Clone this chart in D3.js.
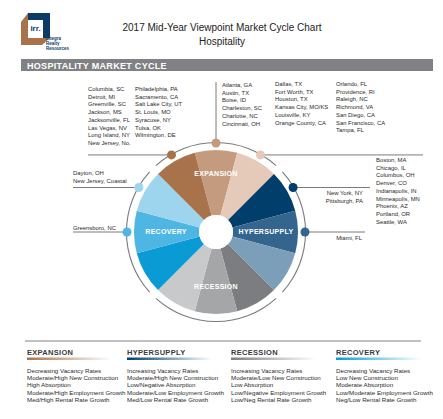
<!DOCTYPE html>
<html><head><meta charset="utf-8">
<script src="https://cdn.jsdelivr.net/npm/d3@7"></script>
<style>body{margin:0;background:#fff}text{font-family:"Liberation Sans Narrow","Liberation Sans",Arial,sans-serif}</style>
</head><body><svg id="c" width="443" height="419"></svg>
<script>
// 12 wheel segments clockwise starting at 12 o'clock
var segments = ["exp2","exp3","hyp1","hyp2","hyp3","rec1","rec2","rec3","rcv1","rcv2","rcv3","exp1"];
var segColors = ["#c49b7f","#e6cab9","#003e6c","#33658f","#7b9fb8","#7c7d81","#a5a6a8","#c8c9cb","#0a9bd5","#4db6e3","#9dd5ee","#a8734b"];
var phases = ["EXPANSION","HYPERSUPPLY","RECESSION","RECOVERY"];
var phaseGrad = [["#a8734b","#fff"],["#003e6c","#fff"],["#7c7d81","#fff"],["#0a9bd5","#fff"]];
var phaseText = [
 ["Decreasing Vacancy Rates","Moderate/High New Construction","High Absorption","Moderate/High Employment Growth","Med/High Rental Rate Growth"],
 ["Increasing Vacancy Rates","Moderate/High New Construction","Low/Negative Absorption","Moderate/Low Employment Growth","Med/Low Rental Rate Growth"],
 ["Increasing Vacancy Rates","Moderate/Low New Construction","Low Absorption","Low/Negative Employment Growth","Low/Neg Rental Rate Growth"],
 ["Decreasing Vacancy Rates","Low New Construction","Moderate Absorption","Low/Moderate Employment Growth","Neg/Low Rental Rate Growth"]];
// markets by segment index (clock position)
var markets = {
 11: [["Columbia, SC","Detroit, MI","Greenville, SC","Jackson, MS","Jacksonville, FL","Las Vegas, NV","Long Island, NY","New Jersey, No."],
      ["Philadelphia, PA","Sacramento, CA","Salt Lake City, UT","St. Louis, MO","Syracuse, NY","Tulsa, OK","Wilmington, DE"]],
 0: [["Atlanta, GA","Austin, TX","Boise, ID","Charleston, SC","Charlotte, NC","Cincinnati, OH"]],
 1: [["Dallas, TX","Fort Worth, TX","Houston, TX","Kansas City, MO/KS","Louisville, KY","Orange County, CA"],
     ["Orlando, FL","Providence, RI","Raleigh, NC","Richmond, VA","San Diego, CA","San Francisco, CA","Tampa, FL"]],
 2: [["New York, NY","Pittsburgh, PA"],["Boston, MA","Chicago, IL","Columbus, OH","Denver, CO","Indianapolis, IN","Minneapolis, MN","Phoenix, AZ","Portland, OR","Seattle, WA"]],
 3: [["Miami, FL"]],
 9: [["Greensboro, NC"]],
 10: [["Dayton, OH","New Jersey, Coastal"]]
};

var svg = d3.select("#c");
var defs = svg.append("defs");

// logo
var g = svg.append("g");
g.append("path").attr("d","M21 22 L28 13 L50 13 L50 38 L42 45 L21 45 Z").attr("fill","#a8734b");
g.append("path").attr("d","M28 13 L50 13 L50 38 L43 38 L43 20 L28 20 Z").attr("fill","#0b3b66");
g.append("rect").attr("x",28).attr("y",20).attr("width",15).attr("height",18).attr("fill","#fff");
g.append("text").attr("x",35.5).attr("y",31).attr("text-anchor","middle").attr("font-size",8).attr("font-weight","bold").attr("fill","#0b3b66").text("irr.");
["Integra","Realty","Resources"].forEach(function(t,i){
  g.append("text").attr("x",46).attr("y",40+i*5).attr("font-size",4.5).attr("font-weight","bold").attr("fill","#0b3b66").text(t);
});

svg.append("text").attr("x",222).attr("y",31).attr("text-anchor","middle").attr("font-size",10).attr("fill","#222").text("2017 Mid-Year Viewpoint Market Cycle Chart");
svg.append("text").attr("x",222).attr("y",45).attr("text-anchor","middle").attr("font-size",10).attr("fill","#222").text("Hospitality");
svg.append("rect").attr("x",21).attr("y",59).attr("width",412).attr("height",12).attr("fill","#808184");
svg.append("text").attr("x",27).attr("y",68.5).attr("font-size",9).attr("font-weight","bold").attr("fill","#fff").attr("letter-spacing",0.3).text("HOSPITALITY MARKET CYCLE");

var cx = 216, cy = 232, R = 82, r0 = 17, ringR = 89;
var a = d3.scaleBand().domain(d3.range(12)).range([-Math.PI/12, 2*Math.PI - Math.PI/12]);
var arc = d3.arc().innerRadius(r0).outerRadius(R);
var wheel = svg.append("g").attr("transform","translate("+cx+","+cy+")");
wheel.selectAll("path.seg").data(segments).enter().append("path")
  .attr("d",function(d,i){return arc({startAngle:a(i),endAngle:a(i)+a.bandwidth()});})
  .attr("fill",function(d,i){return segColors[i];});
wheel.append("circle").attr("r",r0).attr("fill","#fff");
// ring per phase
var ringArc = d3.arc().innerRadius(ringR).outerRadius(ringR+1.1);
phases.forEach(function(p,i){
  wheel.append("path").attr("fill","#7a7b7d")
    .attr("d",ringArc({startAngle:-Math.PI/4+i*Math.PI/2+0.05,endAngle:Math.PI/4+i*Math.PI/2-0.05}));
});
// phase labels
var lab = [[0,-56],[50,2],[0,57],[-50,2]];
phases.forEach(function(p,i){
  wheel.append("text").attr("x",lab[i][0]).attr("y",lab[i][1]).attr("text-anchor","middle")
    .attr("font-size",7).attr("font-weight","bold").attr("fill","#fff").attr("letter-spacing",0.3).text(p);
});

// markers and leader lines
function pos(i){var ang=a(i)+a.bandwidth()/2;return [cx+ringR*Math.sin(ang),cy-ringR*Math.cos(ang)];}
var lineCol = "#58595b";
function hline(x1,x2,y){svg.append("line").attr("x1",x1).attr("x2",x2).attr("y1",y).attr("y2",y).attr("stroke",lineCol).attr("stroke-width",0.8);}
function list(arr,x,y,anchor){
  arr.forEach(function(t,k){svg.append("text").attr("x",x).attr("y",y+k*7.7).attr("text-anchor",anchor||"start").attr("font-size",5.9).attr("fill","#2a2a2a").text(t);});
}
Object.keys(markets).forEach(function(k){
  k=+k; var p=pos(k);
  if(k===11){hline(88,p[0],p[1]);list(markets[k][0],88,91);list(markets[k][1],135,91);}
  if(k===0){svg.append("line").attr("x1",p[0]).attr("x2",p[0]).attr("y1",82).attr("y2",p[1]).attr("stroke",lineCol).attr("stroke-width",0.8);list(markets[k][0],222,87);}
  if(k===1){hline(p[0],423,p[1]);list(markets[k][0],275,86);list(markets[k][1],336,86);}
  if(k===2){hline(p[0],370,p[1]);list(markets[k][0],363,195,"end");list(markets[k][1],376,162);}
  if(k===3){hline(p[0],365,p[1]);list(markets[k][0],362,240,"end");}
  if(k===9){hline(73,p[0],p[1]);list(markets[k][0],73,230);}
  if(k===10){hline(73,p[0],p[1]);list(markets[k][0],73,175);}
  svg.append("circle").attr("cx",p[0]).attr("cy",p[1]).attr("r",4.5).attr("fill",segColors[k]);
});

// legend
svg.append("line").attr("x1",25).attr("x2",421).attr("y1",341).attr("y2",341).attr("stroke","#808184").attr("stroke-width",1);
var lx = [27,127,231,336];
phases.forEach(function(p,i){
  var gr = defs.append("linearGradient").attr("id","g"+i);
  gr.append("stop").attr("offset","0").attr("stop-color",phaseGrad[i][0]);
  gr.append("stop").attr("offset","1").attr("stop-color",phaseGrad[i][1]);
  svg.append("text").attr("x",lx[i]).attr("y",355).attr("font-size",7.5).attr("font-weight","bold").attr("fill","#3a3a3c").attr("letter-spacing",0.3).text(p);
  svg.append("rect").attr("x",lx[i]).attr("y",357.5).attr("width",85).attr("height",2.5).attr("fill","url(#g"+i+")");
  phaseText[i].forEach(function(t,k){
    svg.append("text").attr("x",lx[i]).attr("y",373+k*7.2).attr("font-size",6.2).attr("fill","#2a2a2a").text(t);
  });
});
</script></body></html>
